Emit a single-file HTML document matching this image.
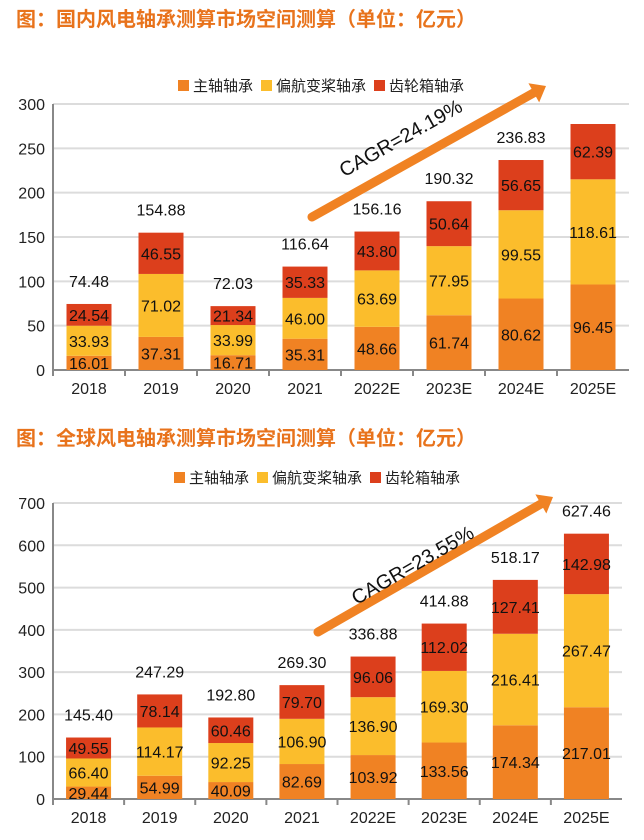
<!DOCTYPE html>
<html><head><meta charset="utf-8">
<style>
body{margin:0;background:#fff;width:644px;height:840px;overflow:hidden}
svg{display:block;font-family:"Liberation Sans","Noto Sans CJK SC",sans-serif}
</style></head><body>
<svg id="s" width="644" height="840">
<text x="16" y="26" font-size="20" font-weight="bold" fill="#e8731c">图：国内风电轴承测算市场空间测算（单位：亿元）</text>
<text x="16" y="445" font-size="20" font-weight="bold" fill="#e8731c">图：全球风电轴承测算市场空间测算（单位：亿元）</text>
</svg>
<script>
const categories=["2018","2019","2020","2021","2022E","2023E","2024E","2025E"];
const domMain=[16.01,37.31,16.71,35.31,48.66,61.74,80.62,96.45];
const domYaw=[33.93,71.02,33.99,46.00,63.69,77.95,99.55,118.61];
const domGear=[24.54,46.55,21.34,35.33,43.80,50.64,56.65,62.39];
const domTotal=["74.48","154.88","72.03","116.64","156.16","190.32","236.83",""];
const domTicks=[0,50,100,150,200,250,300];
const gloMain=[29.44,54.99,40.09,82.69,103.92,133.56,174.34,217.01];
const gloYaw=[66.40,114.17,92.25,106.90,136.90,169.30,216.41,267.47];
const gloGear=[49.55,78.14,60.46,79.70,96.06,112.02,127.41,142.98];
const gloTotal=["145.40","247.29","192.80","269.30","336.88","414.88","518.17","627.46"];
const gloTicks=[0,100,200,300,400,500,600,700];
const colors=["#f08223","#fbbd2c","#dc3f1c"];
const names=["主轴轴承","偏航变桨轴承","齿轮箱轴承"];
const svg=document.getElementById('s');
const NS="http://www.w3.org/2000/svg";
function el(t,a,txt){const e=document.createElementNS(NS,t);for(const k in a)e.setAttribute(k,a[k]);if(txt!==undefined)e.textContent=txt;svg.appendChild(e);return e;}
function fmt(v){return v.toFixed(2);}
function chart(o){
  const x0=53,x1=o.xr,y0=o.y0,y1=o.ytop,max=o.ticks[o.ticks.length-1];
  const ys=v=>y0-(v/max)*(y0-y1);
  const bw=(x1-x0)/categories.length;
  const xs=i=>x0+bw*i+bw/2;
  o.ticks.forEach(t=>{
    if(t>0){const g=el('line',{x1:x0,x2:x1,y1:ys(t),y2:ys(t),stroke:'#dcdcdc','stroke-width':2});
    
    }
    const tl=el('text',{x:x0-8,y:ys(t)+6,'font-size':16,'text-anchor':'end',fill:'#222'},String(t));
    
    
  });
  const ax=el('line',{x1:x0,x2:x0,y1:y1,y2:y0,stroke:'#888','stroke-width':2});
  
  
  const xa=el('line',{x1:x0,x2:x1,y1:y0,y2:y0,stroke:'#888','stroke-width':2});
  
  
  categories.forEach((c,i)=>{
    const tk=el('line',{x1:x0+bw*i,x2:x0+bw*i,y1:y0,y2:y0+6,stroke:'#888','stroke-width':2});
    
    
    const series=[o.main[i],o.yaw[i],o.gear[i]];
    let acc=0;
    series.forEach((v,k)=>{
      const r=el('rect',{x:xs(i)-22.5,y:ys(acc+v),width:45,height:ys(acc)-ys(acc+v),fill:colors[k]});
      
      
      const l=el('text',{x:xs(i),y:(ys(acc)+ys(acc+v))/2+6,'font-size':16,'text-anchor':'middle',fill:'#111'},fmt(v));
      
      
      acc+=v;
    });
    if(o.total[i]){
    const tt=el('text',{x:xs(i),y:ys(acc)-17,'font-size':16,'text-anchor':'middle',fill:'#111'},o.total[i]);
    
    
    }
    const xl=el('text',{x:xs(i),y:y0+24,'font-size':16,'text-anchor':'middle',fill:'#222'},c);
    
    
  });
  let lx=o.lx;
  names.forEach((n,k)=>{
    const sw=el('rect',{x:lx,y:o.ly-6,width:11,height:11,fill:colors[k]});
    
    
    const t=el('text',{x:lx+15,y:o.ly+5,'font-size':15,fill:'#222'},n);
    
    
    lx+=15+n.length*15+8;
  });
  const [ax1,ay1,ax2,ay2]=o.arrow;
  const ang=Math.atan2(ay2-ay1,ax2-ax1);
  const ca=Math.cos(ang),sa=Math.sin(ang);
  const hx=ax2-14*ca,hy=ay2-14*sa;
  const ar=el('line',{x1:ax1,y1:ay1,x2:hx,y2:hy,stroke:'#f08223','stroke-width':9,'stroke-linecap':'round'});
  
  
  const ah=el('polygon',{points:`${ax2},${ay2} ${hx-11*sa},${hy+11*ca} ${hx+11*sa},${hy-11*ca}`,fill:'#f08223'});
  
  
  const ct=el('text',{x:o.ct[0],y:o.ct[1],'font-size':20,'text-anchor':'middle',fill:'#111',transform:`rotate(${ang*180/Math.PI} ${o.ct[0]} ${o.ct[1]})`},o.cagr);
  
  
}
chart({xr:629,y0:370,ytop:104,ticks:domTicks,main:domMain,yaw:domYaw,gear:domGear,total:domTotal,lx:178,ly:86,arrow:[312,217,546,86],ct:[404,144],cagr:"CAGR=24.19%"});
chart({xr:622,y0:799,ytop:503,ticks:gloTicks,main:gloMain,yaw:gloYaw,gear:gloGear,total:gloTotal,lx:174,ly:478,arrow:[318,632,553,497],ct:[416,571],cagr:"CAGR=23.55%"});
</script>
</body></html>
